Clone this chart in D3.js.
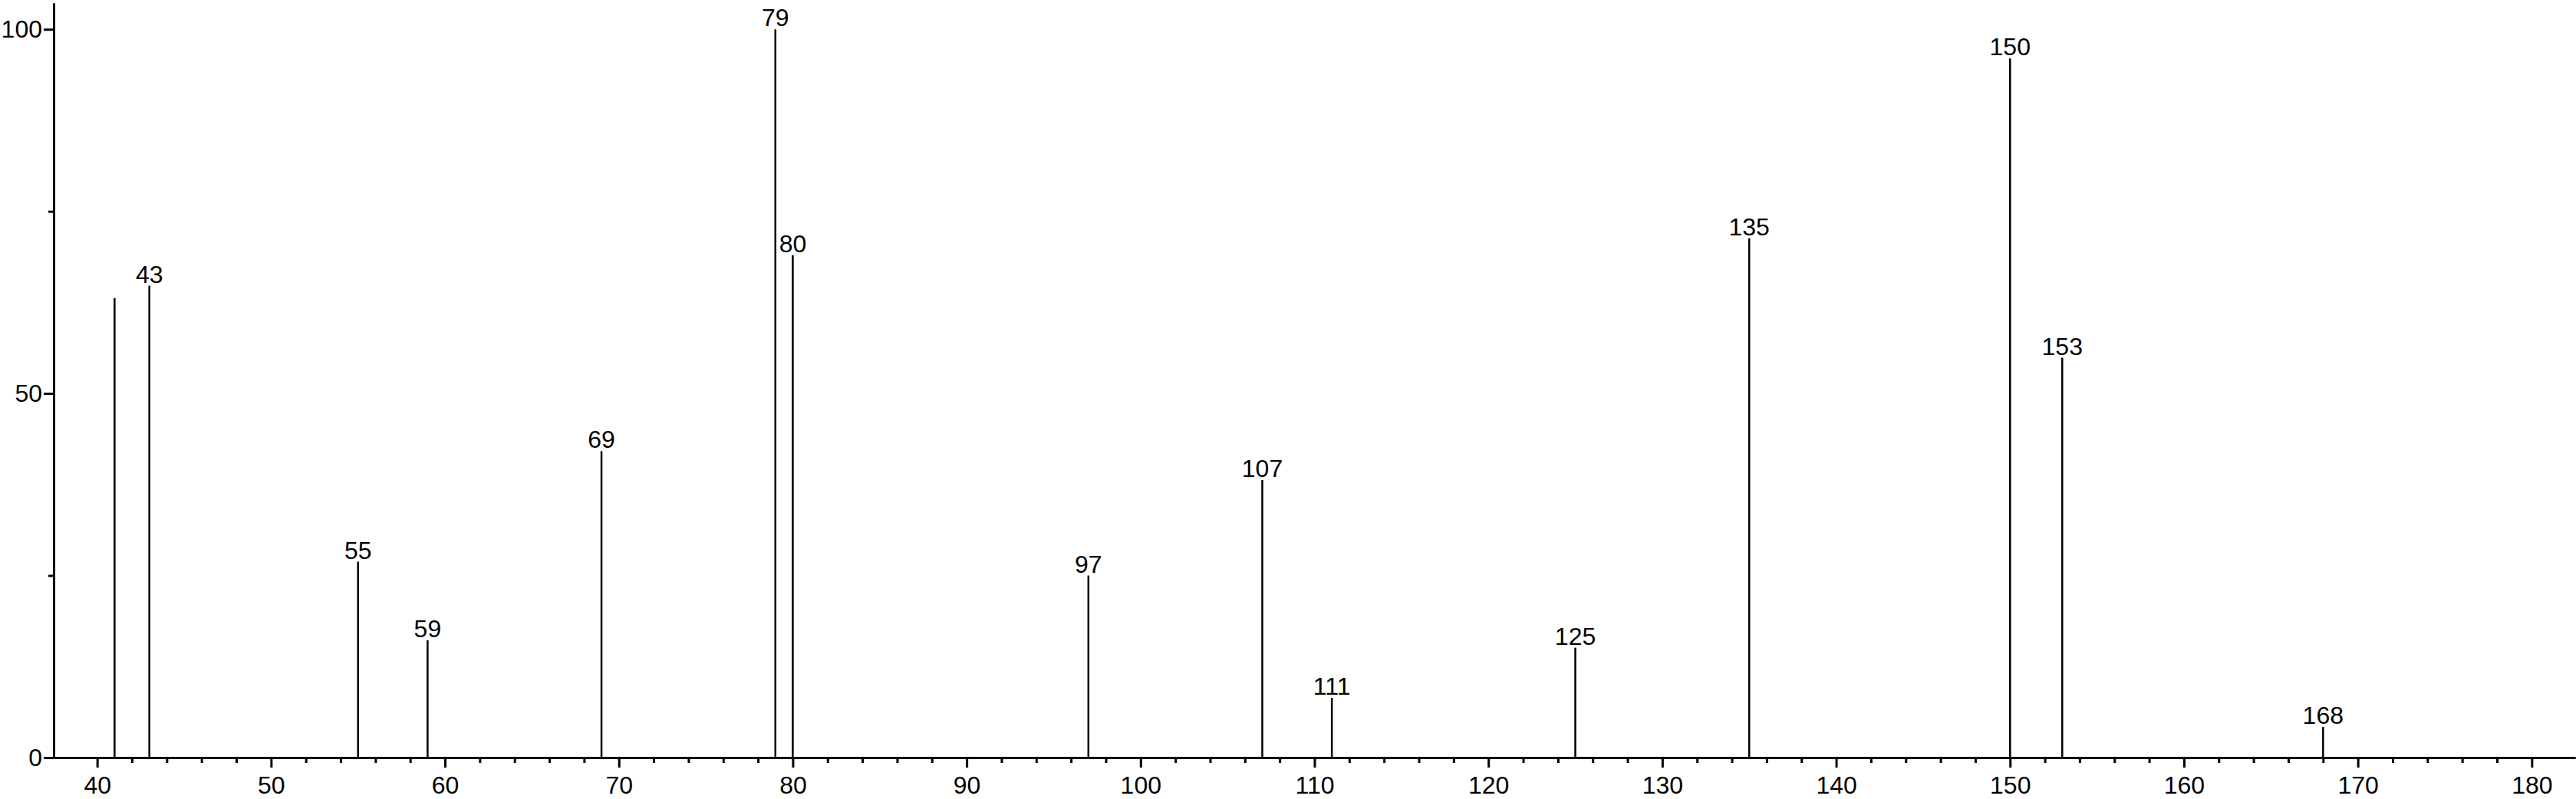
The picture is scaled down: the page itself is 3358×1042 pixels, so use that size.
<!DOCTYPE html>
<head>
  <meta charset="utf-8">
  <script src="https://d3js.org/d3.v7.min.js"></script>
  <style>
    body { margin: 0; background: #fff; }
    svg { display: block; }
    text { font-family: "Liberation Sans", Arial, sans-serif; }
  </style>
</head>

<body>
  <svg></svg>
  <script>
    var width = 3358;
    var height = 1042;

    // peaks (m/z) and relative intensity
    var mz        = [41,   43,   55,   59,   69,   79,  80,   97,   107,  111, 125,  135,  150,  153,  168];
    var intensity = [63.1, 64.8, 26.9, 16.1, 42.1, 100, 69.0, 25.0, 38.1, 8.2, 15.1, 71.3, 96.0, 54.9, 4.2];
    var peakLabels = ['', '43', '55', '59', '69', '79', '80', '97', '107', '111', '125', '135', '150', '153', '168'];

    // ticks
    var xMajor = [40, 50, 60, 70, 80, 90, 100, 110, 120, 130, 140, 150, 160, 170, 180];
    var xMinor = [42, 44, 46, 48, 52, 54, 56, 58, 62, 64, 66, 68, 72, 74, 76, 78, 82, 84, 86, 88,
                  92, 94, 96, 98, 102, 104, 106, 108, 112, 114, 116, 118, 122, 124, 126, 128,
                  132, 134, 136, 138, 142, 144, 146, 148, 152, 154, 156, 158, 162, 164, 166, 168,
                  172, 174, 176, 178];
    var yMajor = [0, 50, 100];
    var yMinor = [25, 75];

    var data = mz.map((d, i) => ({mz: d, val: intensity[i], label: peakLabels[i]}));

    var svg = d3.select('svg')
      .attr('width', width)
      .attr('height', height);

    // scales
    var xScale = d3.scaleLinear()
      .domain([37.5, 182.5])
      .range([70, 3357]);

    var yScale = d3.scaleLinear()
      .domain([0, 103.6])
      .range([988, 4]);

    // peaks
    svg.append('g')
      .selectAll('line')
      .data(data)
      .join('line')
        .attr('x1', d => xScale(d.mz))
        .attr('x2', d => xScale(d.mz))
        .attr('y1', yScale(0))
        .attr('y2', d => yScale(d.val))
        .attr('stroke', '#000')
        .attr('stroke-width', 2.5);

    svg.append('g')
      .selectAll('text')
      .data(data.filter(d => d.label !== ''))
      .join('text')
        .attr('x', d => xScale(d.mz))
        .attr('y', d => yScale(d.val) - 4)
        .attr('text-anchor', 'middle')
        .attr('font-size', 32)
        .attr('fill', '#000')
        .text(d => d.label);

    // axes
    var eixoXMinor = d3.axisBottom(xScale)
      .tickValues(xMinor)
      .tickSize(7)
      .tickSizeOuter(0)
      .tickFormat('');

    var eixoX = d3.axisBottom(xScale)
      .tickValues(xMajor)
      .tickSize(13)
      .tickSizeOuter(0)
      .tickPadding(11)
      .tickFormat(d3.format('d'));

    var eixoYMinor = d3.axisLeft(yScale)
      .tickValues(yMinor)
      .tickSize(7)
      .tickSizeOuter(0)
      .tickFormat('');

    var eixoY = d3.axisLeft(yScale)
      .tickValues(yMajor)
      .tickSize(13)
      .tickSizeOuter(0)
      .tickPadding(2)
      .tickFormat(d3.format('d'));

    function style(g) {
      g.selectAll('path, line').attr('stroke', '#000').attr('stroke-width', 3);
      g.selectAll('text').attr('font-size', 32).attr('fill', '#000')
        .attr('font-family', '"Liberation Sans", Arial, sans-serif');
    }

    svg.append('g')
      .attr('transform', 'translate(' + [0, yScale(0)] + ')')
      .call(eixoXMinor).call(style);

    svg.append('g')
      .attr('transform', 'translate(' + [0, yScale(0)] + ')')
      .call(eixoX).call(style);

    svg.append('g')
      .attr('transform', 'translate(' + [xScale(37.5), 0] + ')')
      .call(eixoYMinor).call(style);

    svg.append('g')
      .attr('transform', 'translate(' + [xScale(37.5), 0] + ')')
      .call(eixoY).call(style);
  </script>
</body>
